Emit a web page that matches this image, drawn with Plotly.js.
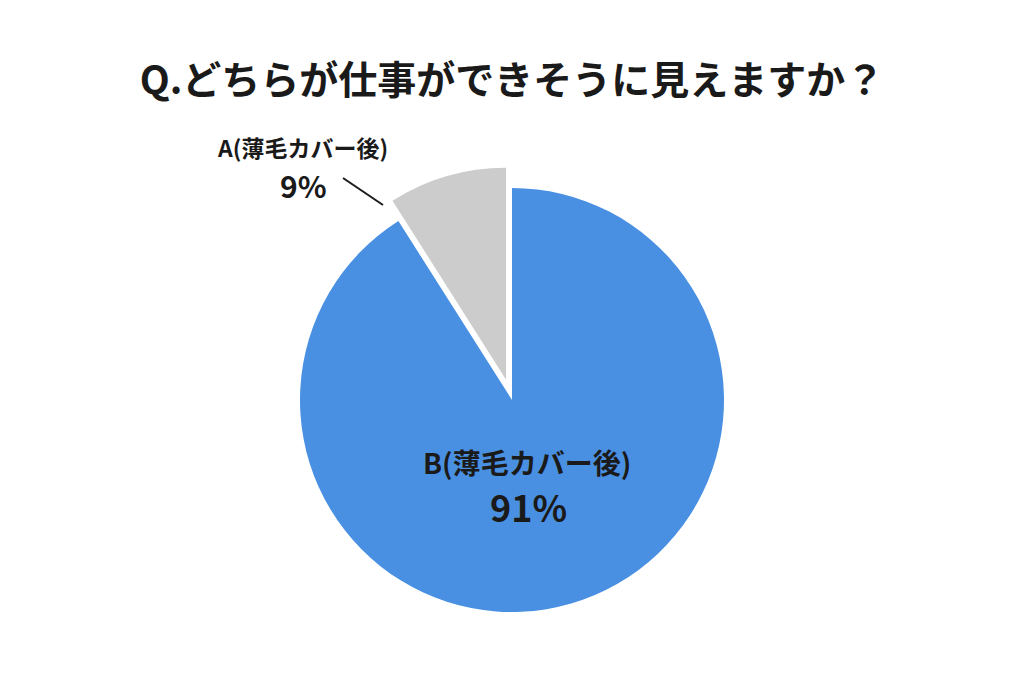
<!DOCTYPE html>
<html lang="ja">
<head>
<meta charset="utf-8">
<title>どちらが仕事ができそうに見えますか</title>
<script src="https://cdn.plot.ly/plotly-3.0.1.min.js"></script>
<style>
  html, body { margin: 0; padding: 0; background: #ffffff; }
  #chart { width: 1024px; height: 683px; }
</style>
</head>
<body>
<div id="chart"></div>
<script>
/* ---------------------------- data ---------------------------- */

const CHART_TITLE = "Q.どちらが仕事ができそうに見えますか？";
const slice_labels = ["A(薄毛カバー後)", "B(薄毛カバー後)"];
const slice_values = [9, 91];
const slice_colors = ["#cccccc", "#4a90e2"];
const slice_pull = [0.1, 0];

/* --------------------------- layout --------------------------- */

const W = 1024;
const H = 683;
const FONT = "'Noto Sans CJK JP', 'Noto Sans', sans-serif";
const INK = "#1a1a1a";

// pixel -> paper helpers
const px = (x) => x / W;
const py = (y) => 1 - y / H;

const total = slice_values.reduce((a, b) => a + b, 0);

function pctText(i) {
  return `${Math.round((slice_values[i] / total) * 100)}%`;
}

function renderChart() {
  // plotly lays the first slice to the right of 12 o'clock; turn it back so
  // slice A ends at 12 o'clock on the left side like the original
  const rotation = -360 * slice_values[0] / total;

  const trace = {
    type: "pie",
    labels: slice_labels,
    values: slice_values,
    pull: slice_pull,
    sort: false,
    direction: "clockwise",
    rotation: rotation,
    textinfo: "none",
    hoverinfo: "label+percent",
    marker: { colors: slice_colors, line: { width: 0 } },
    domain: { x: [px(278.8), px(745.2)], y: [py(633.2), py(166.8)] },
    showlegend: false,
  };

  // label blocks: [x, y, size] for name line and percent line
  const labelPos = [
    { name: [302, 147, 23], pct: [303, 185, 30] },
    { name: [527, 462, 28], pct: [528, 506, 36] },
  ];

  const annotations = [];
  labelPos.forEach((p, i) => {
    annotations.push({
      xref: "paper", yref: "paper",
      x: px(p.name[0]), y: py(p.name[1]),
      xanchor: "center", yanchor: "middle",
      text: `<b>${slice_labels[i]}</b>`,
      showarrow: false,
      font: { family: FONT, size: p.name[2], color: INK },
    });
    annotations.push({
      xref: "paper", yref: "paper",
      x: px(p.pct[0]), y: py(p.pct[1]),
      xanchor: "center", yanchor: "middle",
      text: `<b>${pctText(i)}</b>`,
      showarrow: false,
      font: { family: FONT, size: p.pct[2], color: INK },
    });
  });

  const shapes = [
    {
      type: "line", xref: "paper", yref: "paper",
      x0: px(343), y0: py(178), x1: px(383), y1: py(205),
      line: { color: INK, width: 2 },
    },
  ];

  const layout = {
    width: W,
    height: H,
    paper_bgcolor: "#ffffff",
    plot_bgcolor: "#ffffff",
    margin: { l: 0, r: 0, t: 0, b: 0 },
    font: { family: FONT, color: INK },
    title: {
      text: `<b>${CHART_TITLE}</b>`,
      x: 0.5, xanchor: "center",
      y: py(80), yref: "container", yanchor: "middle",
      font: { family: FONT, size: 39, color: INK },
    },
    annotations: annotations,
    shapes: shapes,
  };

  Plotly.newPlot("chart", [trace], layout, { displayModeBar: false, staticPlot: true });
}

document.addEventListener("DOMContentLoaded", renderChart);
</script>
</body>
</html>
